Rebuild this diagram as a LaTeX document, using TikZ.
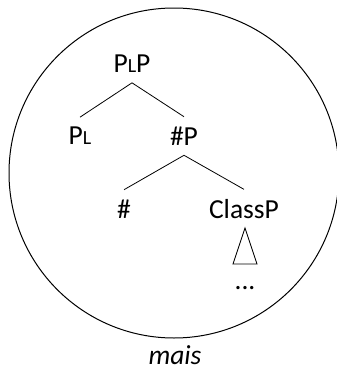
\documentclass[tikz,border=0pt]{standalone}
\usepackage{fontspec}
\setmainfont{Carlito}
\usetikzlibrary{positioning}
\newcommand{\smallL}{{\fontsize{20}{22}\selectfont L}}
\begin{document}
\begin{tikzpicture}[
        x=1pt, y=1pt,
        cat/.style={inner sep=0pt, outer ysep=10pt, font=\fontsize{27.5}{30}\selectfont},
        edge/.style={line width=0.8pt}
    ]
    \useasboundingbox (0,0) rectangle (337,-367);
    \draw[line width=1pt] (174,-173) circle[radius=165pt];

    \node[cat] (plp)    at (132,-64)  {P\smallL P};
    \node[cat] (pl)     at (80,-136)  {P\smallL};
    \node[cat] (numP)   at (184,-136) {\#P};
    \node[cat] (num)    at (124,-209) {\#};
    \node[cat] (classP) at (244,-209) {ClassP};
    \node[cat, outer ysep=0pt] (dots) at (245,-288) {...};
    \node[cat, outer ysep=0pt, anchor=base, font=\fontsize{27.5}{30}\selectfont\itshape] (mais) at (175,-364) {mais};

    \draw[edge] (plp.south) -- (pl.north);
    \draw[edge] (plp.south) -- (numP.north);
    \draw[edge] (numP.south) -- (num.north);
    \draw[edge] (numP.south) -- (classP.north);
    % triangle under ClassP
    \draw[edge] (245,-228) -- (233,-264) -- (257,-264) -- cycle;
\end{tikzpicture}
\end{document}
